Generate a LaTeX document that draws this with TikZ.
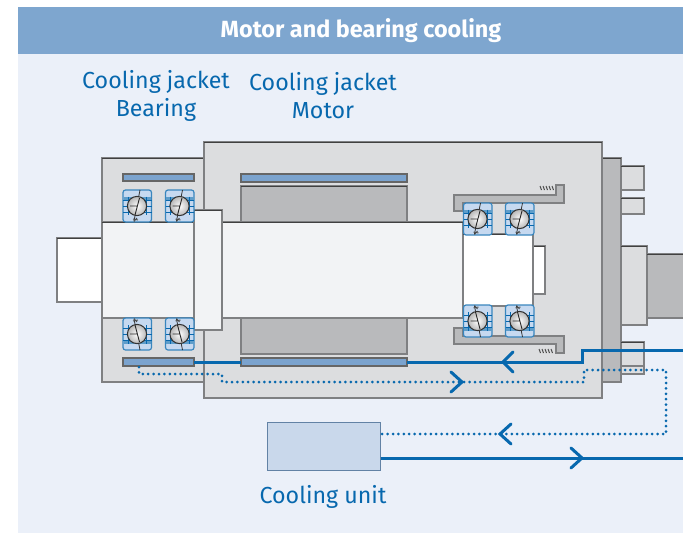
\documentclass[tikz,border=0pt]{standalone}
\usepackage{fontspec}
\setmainfont{Fira Sans}
\definecolor{panel}{HTML}{EBF0F9}
\definecolor{header}{HTML}{7EA6CF}
\definecolor{body}{HTML}{DCDDDF}
\definecolor{dgray}{HTML}{B9BABC}
\definecolor{shaft}{HTML}{F2F3F5}
\definecolor{edge}{HTML}{7F8082}
\definecolor{flow}{HTML}{0768AE}
\definecolor{brg}{HTML}{C6D9F0}
\definecolor{jacket}{HTML}{7BA3CE}
\definecolor{unit}{HTML}{C9D8EB}
\tikzset{
  part/.style={draw=edge,line width=1.4pt},
  topedge/.style={draw=black!75,line width=.9pt},
  jacketbar/.style={fill=jacket,draw=black!60,line width=1.1pt},
  flowline/.style={draw=flow,line width=3pt},
  dotline/.style={draw=flow,line width=3pt,line cap=round,dash pattern=on 0pt off 5.4pt},
  chevron/.style={draw=flow,line width=3pt,line cap=round},
  label/.style={text=flow,font=\fontsize{23.2}{28}\selectfont,inner sep=0pt,align=center},
  hatchline/.style={draw=black!70,line width=1pt}
}
% box: fill colour, x1,y1,x2,y2
\newcommand{\partbox}[5]{%
  \fill[#1,part] (#2,#3) rectangle (#4,#5);
  \draw[topedge] (#2,#3) -- (#4,#3);
}
% bearing: left x, centre y, flip (1 = upper, -1 mirrored)
\newcommand{\bearing}[3]{%
  \begin{scope}[shift={(#1,#2)},yscale=#3]
    \fill[brg,draw=flow!80,line width=1.2pt,rounded corners=2.5pt] (0,-16) rectangle (28.5,16);
    \fill[flow!65] (0.5,-9.5) rectangle (28,-6.5);
    \draw[flow,line width=.9pt] (0,-6) -- (28.5,-6) (0,0) -- (28.5,0) (0,6) -- (28.5,6);
    \draw[flow,line width=.9pt] (5,-9.5) -- (5,9) (23.5,-9.5) -- (23.5,9);
    \draw[black!80,line width=.8pt] (17,-16) -- (11,15);
    \shade[inner color=white,outer color=black!28,draw=black!80,line width=1pt] (14,0) circle (9.6);
    \draw[black!85,line width=.9pt] (16.5,-8) -- (12,9) (7,0) -- (14,0);
    \draw[black!70,line width=.9pt] (10,13) -- (15,14) (11,15.5) -- (14,12);
  \end{scope}%
}
\newcommand{\hatch}[2]{%
  \foreach \d in {0,3,6,9,12} \draw[hatchline] (#1+\d,#2) -- (#1+\d+1.5,#2+4);
}
\begin{document}
\begin{tikzpicture}[x=1pt,y=-1pt]
\useasboundingbox (0,0) rectangle (683,533);
\fill[white] (0,0) rectangle (683,533);
\fill[panel] (18,7) rectangle (683,533);
\fill[header] (18,7) rectangle (683,54);
\node[text=white,inner sep=0pt,font=\fontsize{23.4}{28}\selectfont\bfseries] (title) at (361,31) {Motor and bearing cooling};
\node[label] (jb) at (156,95.5) {Cooling jacket\\Bearing};
\node[label] (jm) at (323,95.5) {Cooling jacket\\Motor};
\node[label] (cu) at (323,497) {Cooling unit};

% housings
\partbox{body}{102}{158}{204}{382}
\partbox{dgray}{602}{158}{621}{382}
\partbox{body}{621}{166}{644}{190}
\partbox{body}{621}{198}{644}{214}
\partbox{body}{621}{246}{647}{325}
\partbox{dgray}{647}{254}{690}{318}
\partbox{body}{621}{342}{644}{374}
\draw[part] (621,366) -- (644,366);
\partbox{body}{204}{142}{602}{398}
% stators and jackets
\partbox{dgray}{241}{186}{407}{222}
\partbox{dgray}{241}{318}{407}{354}
\fill[jacketbar] (123,174) rectangle (194,181);
\fill[jacketbar] (241,174) rectangle (407,182);
% shaft
\partbox{white}{57}{238}{102}{302}
\partbox{shaft}{102}{222}{463}{318}
\partbox{white}{533}{246}{545}{294}
\partbox{white}{463}{234}{533}{306}
\partbox{shaft}{194}{210}{222}{330}
% brackets
\fill[dgray,part] (454,211) -- (454,195) -- (556,195) -- (556,185) -- (564,185) -- (564,203) -- (463,203) -- (463,211) -- cycle;
\fill[dgray,part] (454,328) -- (463,328) -- (463,336) -- (564,336) -- (564,353) -- (556,353) -- (556,344) -- (454,344) -- cycle;
\hatch{540}{186}
\hatch{539}{349}
% bearings
\bearing{123}{206}{1}
\bearing{165.5}{206}{1}
\bearing{123}{334}{-1}
\bearing{165.5}{334}{-1}
\bearing{463.5}{219}{1}
\bearing{505.5}{219}{1}
\bearing{463.5}{321}{-1}
\bearing{505.5}{321}{-1}
\fill[jacketbar] (123,358) rectangle (194,366);
\fill[jacketbar] (241,358) rectangle (407,366);

% cooling unit
\node[draw=jacket!80!black,fill=unit,line width=1pt,minimum width=113pt,minimum height=48pt,inner sep=0pt] (unitbox) at (323.5,446) {};
% flow route
\coordinate (bj) at (194,362);
\coordinate (mj) at (241,362);
\coordinate (jn) at (407,362);
\coordinate (s1) at (582,362);
\coordinate (s2) at (582,350);
\coordinate (s3) at (683,350);
\coordinate (ret) at (683,458);
\draw[flowline] (bj) -- (mj) (jn) -- (s1) -- (s2) -- (s3);
\draw[flowline] (unitbox.east |- ret) -- (ret);
\coordinate (d0) at (139,367);
\coordinate (d1) at (139,374);
\coordinate (d2) at (222,374);
\coordinate (d3) at (222,382);
\coordinate (d4) at (584,382);
\coordinate (d5) at (584,370);
\coordinate (d6) at (666,370);
\coordinate (d7) at (666,434);
\draw[dotline] (d0) -- (d1) -- (d2) -- (d3) -- (d4) -- (d5) -- (d6) -- (d7) -- (unitbox.east |- d7);
% chevrons
\draw[chevron] (513,352) -- (503,362) -- (513,372);
\draw[chevron] (451,372) -- (462,382) -- (451,392);
\draw[chevron] (511,424) -- (500,434) -- (511,444);
\draw[chevron] (571,448) -- (582,458) -- (571,468);
\end{tikzpicture}
\end{document}
